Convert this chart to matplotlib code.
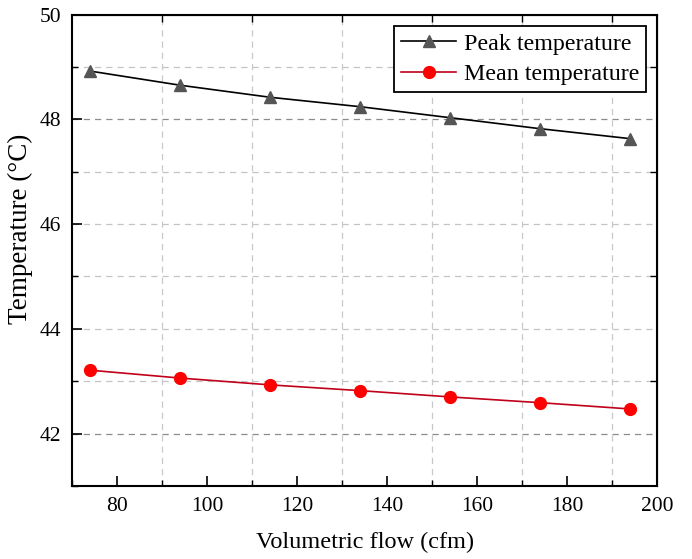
import matplotlib
matplotlib.use("Agg")
import matplotlib.pyplot as plt
from matplotlib.ticker import MultipleLocator

plt.rcParams['font.family'] = ['Liberation Serif', 'DejaVu Serif']

flow = [74, 94, 114, 134, 154, 174, 194]
peak_temp = [48.92, 48.65, 48.42, 48.24, 48.03, 47.82, 47.63]
mean_temp = [43.21, 43.06, 42.93, 42.82, 42.70, 42.59, 42.47]
x_ticks = [80, 100, 120, 140, 160, 180, 200]
y_ticks = [42, 44, 46, 48, 50]

fig = plt.figure(figsize=(6.92, 5.59), dpi=100)
ax = fig.add_axes([0.1045, 0.1306, 0.8455, 0.8434])

# grid
for yv in range(42, 50):
    c = '#8c8c8c' if yv in (42, 48) else '#c4c4c4'
    ax.axhline(yv, color=c, lw=0.9, ls=(0, (5, 4)), zorder=0)
for xv in range(90, 200, 20):
    ax.axvline(xv, color='#c8c8c8', lw=0.9, ls=(0, (5, 4)), zorder=0)

ax.plot(flow, peak_temp, color='black', lw=1.2, marker='^', markersize=8.5,
        markerfacecolor='#555555', markeredgecolor='#555555', label='Peak temperature', zorder=3)
ax.plot(flow, mean_temp, color='#c0001a', lw=1.2, marker='o', markersize=8.5,
        markerfacecolor='#ff0000', markeredgecolor='#ff0000', label='Mean temperature', zorder=3)

ax.set_xlim(70, 200)
ax.set_ylim(41, 50)
ax.set_xticks(x_ticks)
ax.set_yticks(y_ticks)
ax.xaxis.set_minor_locator(MultipleLocator(10))
ax.yaxis.set_minor_locator(MultipleLocator(1))
ax.tick_params(which='major', direction='in', length=7, width=1.2, labelsize=15.5, pad=8)
ax.tick_params(which='minor', direction='in', length=4, width=1.0)
for s in ax.spines.values():
    s.set_linewidth(1.5)

# mirror ticks on top/right at odd positions
secx = ax.secondary_xaxis('top')
secx.set_xticks(list(range(90, 200, 20)))
secx.tick_params(direction='in', length=5, width=1.0, labeltop=False)
secx.set_xticklabels([])
secy = ax.secondary_yaxis('right')
secy.set_yticks([43, 45, 47, 49])
secy.tick_params(direction='in', length=5, width=1.0, labelright=False)
secy.set_yticklabels([])

ax.set_xlabel('Volumetric flow (cfm)', fontsize=17.5, labelpad=11)
ax.set_ylabel('Temperature (°C)', fontsize=19.5)
ax.yaxis.set_label_coords(-0.068, 0.545)

leg = ax.legend(loc='upper right', fontsize=17.3, frameon=True, fancybox=False,
                edgecolor='black', framealpha=1, handlelength=2.3, borderpad=0.3,
                labelspacing=0.35, handletextpad=0.3, borderaxespad=0.47)
leg.get_frame().set_linewidth(1.3)

fig.savefig('out.png', dpi=100)
